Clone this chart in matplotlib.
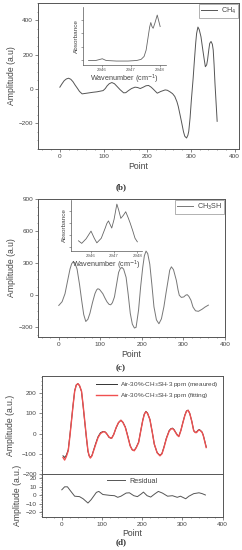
import matplotlib
matplotlib.use("Agg")
import matplotlib.pyplot as plt

plt.rcParams['font.family'] = ['Liberation Sans', 'DejaVu Sans']

# (a) CH4 signal
a_x = [0, 5, 10, 15, 20, 25, 30, 35, 40, 45, 51, 62, 75, 85, 99, 104, 108, 113, 119, 125, 131, 138, 146,
       151, 157, 164, 172, 178, 184, 191, 197, 203, 209, 214, 219, 223, 231, 241, 246, 252, 258, 263,
       268, 271, 275, 279, 283, 286, 290, 293, 295, 298, 301, 305, 308, 311, 313, 316, 319, 323, 327,
       330, 333, 336, 338, 341, 343, 346, 349, 351, 353, 355, 358, 360]
a_y = [10, 30, 48, 58, 62, 56, 42, 22, 4, -15, -29, -25, -20, -17, -10, 2, 17, 30, 37, 30, 14, -5, -23,
       -22, -10, 2, 10, 8, 2, 10, 18, 20, 10, -2, -15, -25, -15, -6, -8, -17, -28, -44,
       -75, -102, -150, -199, -250, -276, -286, -270, -247, -170, -64, 60, 168, 270, 323, 360, 345, 303, 230,
       178, 129, 140, 168, 230, 265, 276, 260, 226, 140, 33, -100, -189]
a_wn = [2945.55, 2945.8, 2945.95, 2946.02, 2946.15, 2946.5, 2946.9, 2947.2, 2947.35, 2947.45,
        2947.52, 2947.58, 2947.64, 2947.68, 2947.72, 2947.76, 2947.82, 2947.9, 2947.95, 2948.0]
a_abs = [0.07, 0.07, 0.09, 0.10, 0.07, 0.06, 0.06, 0.07, 0.09, 0.14,
         0.25, 0.45, 0.65, 0.73, 0.66, 0.63, 0.72, 0.86, 0.76, 0.66]

# (b) CH3SH signal
b_x = [0, 8, 15, 22, 27, 31, 35, 39, 44, 50, 55, 60, 65, 70, 75, 81, 87, 91, 94, 98, 106, 111, 116,
       121, 125, 129, 134, 139, 144, 148, 152, 156, 162, 167, 172, 177, 182, 186, 192, 197, 202, 206,
       210, 214, 219, 224, 229, 235, 241, 247, 253, 258, 263, 267, 271, 276, 283, 287, 290, 295, 301,
       305, 309, 313, 318, 323, 329, 336, 345, 352, 360]
b_y = [-95, -60, 15, 150, 245, 295, 315, 300, 245, 100, -46, -180, -245, -225, -168, -70, 15, 50, 61, 55,
       15, -25, -61, -85, -89, -70, -15, 100, 214, 250, 260, 245, 168, 10, -168, -270, -306, -300, -138,
       80, 260, 370, 413, 390, 291, 100, -107, -230, -266, -220, -107, 20, 138, 235, 266, 240, 138, 50,
       0, -20, -15, 0, 6, -10, -46, -110, -145, -150, -130, -110, -92]
b_wn = [2945.47, 2945.61, 2945.8, 2946.01, 2946.15, 2946.26, 2946.45, 2946.62, 2946.69, 2946.76,
        2946.83, 2946.9, 2947.0, 2947.12, 2947.2, 2947.29, 2947.4, 2947.5, 2947.6, 2947.69,
        2947.8, 2947.9, 2948.0]
b_abs = [0.2, 0.15, 0.24, 0.39, 0.25, 0.16, 0.25, 0.45, 0.54, 0.59,
         0.52, 0.45, 0.62, 0.92, 0.80, 0.64, 0.70, 0.77, 0.66, 0.55,
         0.40, 0.25, 0.18]

# (c) measured / fitting, (d) residual
c_x = [3, 7, 11, 16, 20, 24, 28, 32, 36, 40, 44, 49, 53, 57, 61, 65, 68, 71, 75, 79, 84, 90, 96, 102,
       106, 109, 113, 117, 121, 124, 129, 135, 141, 147, 152, 158, 164, 170, 175, 180, 185, 191, 196,
       201, 205, 209, 213, 219, 225, 230, 237, 244, 249, 254, 260, 267, 271, 275, 279, 283, 287, 291,
       296, 301, 306, 310, 314, 318, 323, 328, 332, 335, 339, 342, 346, 349, 352, 355, 359]
c_meas = [-110, -118, -108, -80, -10, 65, 142, 212, 241, 247, 237, 208, 136, 58, -18, -88, -110, -118,
          -108, -82, -50, -16, 4, 10, 10, 6, -4, -18, -22, -22, -4, 28, 54, 66, 56, 32, -12, -60,
          -80, -84, -68, -42, 12, 64, 96, 110, 102, 70, 6, -54, -94, -108, -98, -66, -22, 15, 24, 27, 20,
          6, -6, -12, 16, 55, 92, 112, 116, 100, 62, 15, 6, 8, 17, 20, 13, 7, -10, -34, -66]
c_fit = [-118, -131, -115, -85, -15, 62, 140, 210, 240, 247, 238, 210, 140, 62, -15, -85, -110, -121,
         -110, -85, -55, -20, 0, 8, 9, 5, -5, -16, -22, -23, -5, 30, 55, 66, 55, 30, -15, -61,
         -80, -85, -70, -44, 10, 62, 95, 108, 100, 70, 5, -52, -95, -110, -100, -69, -25, 13, 22, 25, 18,
         5, -8, -15, 15, 54, 90, 111, 115, 100, 62, 13, 5, 5, 15, 18, 12, 5, -12, -36, -69]
d_x = [0, 7, 14, 22, 32, 44, 53, 65, 73, 86, 92, 102, 119, 131, 139, 147, 160, 168, 179, 188,
       197, 203, 212, 221, 232, 240, 250, 263, 275, 287, 295, 308, 316, 328, 341, 349, 357]
d_res = [6.5, 10, 10, 5, -1, -1.5, -4, -9, -5, 3.5, 4.6, 1, 0, -0.4, -2.3, -1, 2.7, 3, -0.4, -1.5,
         1.5, 3.8, -0.4, -2, 2, 4.6, 2.7, -1, -0.4, -2.3, -1, -4, -1, 2, 3, 2, 0.4]

W, H = 242, 550
fig = plt.figure(figsize=(W / 100, H / 100), dpi=100)

edge = '#555555'
tick_fs = 4.6
lab_fs = 6.2


def style(ax):
    for s in ax.spines.values():
        s.set_color(edge)
        s.set_linewidth(0.7)
    ax.tick_params(direction='out', length=2, width=0.5, colors=edge,
                   labelsize=tick_fs, labelcolor='#444444', pad=1.5)
    ax.minorticks_on()
    ax.tick_params(which='minor', direction='out', length=1, width=0.4, colors=edge)


def box(l, t, r, b):
    return [l / W, 1 - b / H, (r - l) / W, (b - t) / H]


def inset(rect, xs, ys, xlim):
    ins = fig.add_axes(rect)
    ins.plot(xs, ys, color='#666666', lw=0.6)
    ins.set_xlim(*xlim)
    ins.set_ylim(0, 1)
    ins.spines['top'].set_visible(False)
    ins.spines['right'].set_visible(False)
    for s in ['left', 'bottom']:
        ins.spines[s].set_color(edge)
        ins.spines[s].set_linewidth(0.5)
    ins.set_xticks([2946, 2947, 2948])
    ins.set_yticks([0.08, 0.31, 0.54, 0.78])
    ins.set_yticklabels([])
    ins.tick_params(direction='out', length=1.2, width=0.4, colors=edge,
                    labelsize=3.2, labelcolor='#555555', pad=1)
    ins.set_xlabel('Wavenumber (cm$^{-1}$)', fontsize=5.2, color='#444444', labelpad=0.5)
    ins.set_ylabel('Absorbance', fontsize=4.6, color='#444444', labelpad=1)
    return ins


def legend(ax, **kw):
    lg = ax.legend(fontsize=5.2, frameon=True, fancybox=False, handlelength=2.2,
                   borderpad=0.25, handletextpad=0.5, borderaxespad=0.15, **kw)
    lg.get_frame().set_edgecolor('#777777')
    lg.get_frame().set_linewidth(0.5)
    for t in lg.get_texts():
        t.set_color('#444444')
    return lg


# ---- (a)
ax1 = fig.add_axes(box(38, 3, 239, 149))
ax1.plot(a_x, a_y, color='#555555', lw=0.7, label='CH$_4$')
ax1.set_xlim(-50, 410)
ax1.set_ylim(-350, 500)
ax1.set_xticks([0, 100, 200, 300, 400])
ax1.set_yticks([-200, 0, 200, 400])
style(ax1)
ax1.set_xlabel('Point', fontsize=lab_fs, color='#444444', labelpad=2)
ax1.set_ylabel('Amplitude (a.u)', fontsize=lab_fs, color='#444444', labelpad=2)
legend(ax1, loc='upper right')
inset(box(83, 7, 166, 64.5), a_wn, a_abs, (2945.36, 2948.2))

fig.text(121 / W, 1 - 187 / H, '(b)', ha='center', va='center', fontsize=6.5,
         fontweight='bold', family='Liberation Serif', color='#333333')

# ---- (b)
ax2 = fig.add_axes(box(38, 199, 225, 337))
ax2.plot(b_x, b_y, color='#777777', lw=0.7, label='CH$_3$SH')
ax2.set_xlim(-50, 400)
ax2.set_ylim(-390, 900)
ax2.set_xticks([0, 100, 200, 300, 400])
ax2.set_yticks([-300, 0, 300, 600, 900])
style(ax2)
ax2.set_xlabel('Point', fontsize=lab_fs, color='#444444', labelpad=2)
ax2.set_ylabel('Amplitude (a.u)', fontsize=lab_fs, color='#444444', labelpad=2)
legend(ax2, loc='upper right')
inset(box(71, 200, 142, 251), b_wn, b_abs, (2945.15, 2948.2))

fig.text(121 / W, 1 - 368 / H, '(c)', ha='center', va='center', fontsize=6.5,
         fontweight='bold', family='Liberation Serif', color='#333333')

# ---- (c)
ax3 = fig.add_axes(box(41.7, 376, 222.7, 474))
ax3.plot(c_x, c_meas, color='#333333', lw=0.7, label='Air-30%-CH$_3$SH-3 ppm (meaured)')
ax3.plot(c_x, c_fit, color='#f05050', lw=1.0, label='Air-30%-CH$_3$SH-3 ppm (fitting)')
ax3.set_xlim(-50, 400)
ax3.set_ylim(-200, 285)
ax3.set_xticks([0, 100, 200, 300, 400])
ax3.set_yticks([-200, -100, 0, 100, 200])
style(ax3)
ax3.tick_params(labelbottom=False)
ax3.set_ylabel('Amplitude (a.u.)', fontsize=lab_fs, color='#444444', labelpad=5)
lg3 = ax3.legend(fontsize=4.6, frameon=False, handlelength=3.2, handletextpad=0.6,
                 borderaxespad=0.2, loc='upper right', labelspacing=0.3)
for t in lg3.get_texts():
    t.set_color('#444444')

# ---- (d)
ax4 = fig.add_axes(box(41.7, 474, 222.7, 516.7))
ax4.plot(d_x, d_res, color='#555555', lw=0.7, label='Residual')
ax4.set_xlim(-50, 400)
ax4.set_ylim(-25, 25)
ax4.set_xticks([0, 100, 200, 300, 400])
ax4.set_yticks([-20, -10, 0, 10, 20])
style(ax4)
ax4.set_xlabel('Point', fontsize=lab_fs, color='#444444', labelpad=2)
ax4.set_ylabel('Amplitude (a.u.)', fontsize=lab_fs, color='#444444', labelpad=3)
lg4 = ax4.legend(fontsize=5.2, frameon=False, handlelength=2.5, handletextpad=0.6,
                 loc='upper center', borderaxespad=0.1)
for t in lg4.get_texts():
    t.set_color('#444444')

fig.text(121 / W, 1 - 542 / H, '(d)', ha='center', va='center', fontsize=6.5,
         fontweight='bold', family='Liberation Serif', color='#333333')

fig.savefig('out.png', dpi=100)
